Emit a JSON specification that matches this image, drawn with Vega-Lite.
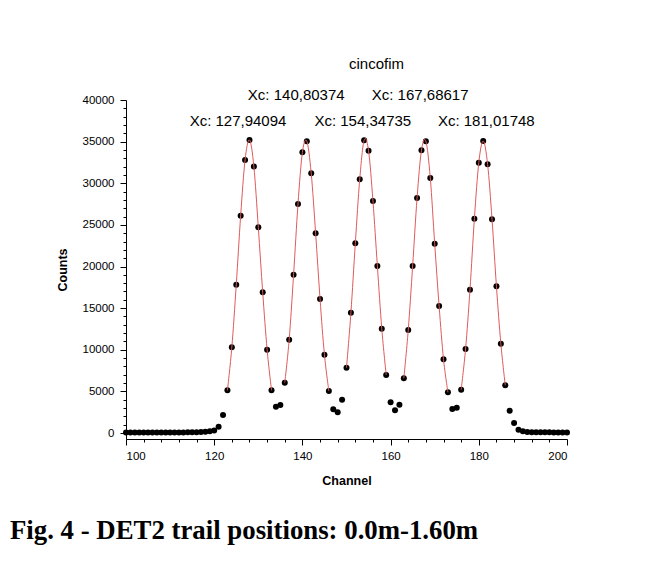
{
  "$schema": "https://vega.github.io/schema/vega-lite/v6.json",
  "width": 441,
  "height": 339,
  "autosize": "none",
  "padding": {"left": 126, "top": 100, "right": 88, "bottom": 135},
  "background": "white",
  "title": {
    "text": "Fig. 4 - DET2 trail positions: 0.0m-1.60m",
    "orient": "bottom",
    "anchor": "start",
    "frame": "group",
    "dx": -116,
    "offset": 31,
    "baseline": "top",
    "font": "Liberation Serif",
    "fontSize": 26.8,
    "fontWeight": "bold",
    "color": "black"
  },
  "config": {
    "view": {"stroke": null},
    "axis": {
      "grid": false,
      "domainColor": "black",
      "tickColor": "black",
      "labelColor": "black",
      "titleColor": "black",
      "labelFont": "Liberation Sans",
      "titleFont": "Liberation Sans",
      "labelFontSize": 11.5,
      "titleFontSize": 12.5,
      "titleFontWeight": "bold",
      "domainWidth": 1,
      "tickWidth": 1
    }
  },
  "datasets": {
    "pts": [
      {"ch": 100, "counts": 50, "seg": 0}, {"ch": 101, "counts": 50, "seg": 0}, {"ch": 102, "counts": 50, "seg": 0},
      {"ch": 103, "counts": 50, "seg": 0}, {"ch": 104, "counts": 50, "seg": 0}, {"ch": 105, "counts": 50, "seg": 0},
      {"ch": 106, "counts": 50, "seg": 0}, {"ch": 107, "counts": 50, "seg": 0}, {"ch": 108, "counts": 50, "seg": 0},
      {"ch": 109, "counts": 60, "seg": 0}, {"ch": 110, "counts": 60, "seg": 0}, {"ch": 111, "counts": 60, "seg": 0},
      {"ch": 112, "counts": 70, "seg": 0}, {"ch": 113, "counts": 70, "seg": 0}, {"ch": 114, "counts": 80, "seg": 0},
      {"ch": 115, "counts": 90, "seg": 0}, {"ch": 116, "counts": 100, "seg": 0}, {"ch": 117, "counts": 120, "seg": 0},
      {"ch": 118, "counts": 150, "seg": 0}, {"ch": 119, "counts": 200, "seg": 0}, {"ch": 120, "counts": 300, "seg": 0},
      {"ch": 121, "counts": 760, "seg": 0}, {"ch": 122, "counts": 2150, "seg": 0},
      {"ch": 123, "counts": 5130, "seg": 1}, {"ch": 124, "counts": 10300, "seg": 1}, {"ch": 125, "counts": 17800, "seg": 1},
      {"ch": 126, "counts": 26100, "seg": 1}, {"ch": 127, "counts": 32800, "seg": 1}, {"ch": 128, "counts": 35200, "seg": 1},
      {"ch": 129, "counts": 32000, "seg": 1}, {"ch": 130, "counts": 24700, "seg": 1}, {"ch": 131, "counts": 16900, "seg": 1},
      {"ch": 132, "counts": 10000, "seg": 1}, {"ch": 133, "counts": 5130, "seg": 1},
      {"ch": 134, "counts": 3160, "seg": 0}, {"ch": 135, "counts": 3360, "seg": 0},
      {"ch": 136, "counts": 6040, "seg": 2}, {"ch": 137, "counts": 11200, "seg": 2}, {"ch": 138, "counts": 19000, "seg": 2},
      {"ch": 139, "counts": 27500, "seg": 2}, {"ch": 140, "counts": 33720, "seg": 2}, {"ch": 141, "counts": 35040, "seg": 2},
      {"ch": 142, "counts": 31190, "seg": 2}, {"ch": 143, "counts": 24000, "seg": 2}, {"ch": 144, "counts": 16100, "seg": 2},
      {"ch": 145, "counts": 9400, "seg": 2}, {"ch": 146, "counts": 5040, "seg": 2},
      {"ch": 147, "counts": 2840, "seg": 0}, {"ch": 148, "counts": 2480, "seg": 0}, {"ch": 149, "counts": 4000, "seg": 0},
      {"ch": 150, "counts": 7850, "seg": 3}, {"ch": 151, "counts": 14450, "seg": 3}, {"ch": 152, "counts": 22790, "seg": 3},
      {"ch": 153, "counts": 30470, "seg": 3}, {"ch": 154, "counts": 35160, "seg": 3}, {"ch": 155, "counts": 33910, "seg": 3},
      {"ch": 156, "counts": 27870, "seg": 3}, {"ch": 157, "counts": 20060, "seg": 3}, {"ch": 158, "counts": 12530, "seg": 3},
      {"ch": 159, "counts": 6970, "seg": 3},
      {"ch": 160, "counts": 3690, "seg": 0}, {"ch": 161, "counts": 2730, "seg": 0}, {"ch": 162, "counts": 3400, "seg": 0},
      {"ch": 163, "counts": 6570, "seg": 4}, {"ch": 164, "counts": 12370, "seg": 4}, {"ch": 165, "counts": 20060, "seg": 4},
      {"ch": 166, "counts": 28230, "seg": 4}, {"ch": 167, "counts": 33960, "seg": 4}, {"ch": 168, "counts": 35040, "seg": 4},
      {"ch": 169, "counts": 30630, "seg": 4}, {"ch": 170, "counts": 22740, "seg": 4}, {"ch": 171, "counts": 15250, "seg": 4},
      {"ch": 172, "counts": 8850, "seg": 4}, {"ch": 173, "counts": 4890, "seg": 4},
      {"ch": 174, "counts": 2880, "seg": 0}, {"ch": 175, "counts": 3040, "seg": 0},
      {"ch": 176, "counts": 5200, "seg": 5}, {"ch": 177, "counts": 10090, "seg": 5}, {"ch": 178, "counts": 17210, "seg": 5},
      {"ch": 179, "counts": 25740, "seg": 5}, {"ch": 180, "counts": 32470, "seg": 5}, {"ch": 181, "counts": 35070, "seg": 5},
      {"ch": 182, "counts": 32270, "seg": 5}, {"ch": 183, "counts": 25670, "seg": 5}, {"ch": 184, "counts": 17620, "seg": 5},
      {"ch": 185, "counts": 10730, "seg": 5}, {"ch": 186, "counts": 5730, "seg": 5},
      {"ch": 187, "counts": 2680, "seg": 0}, {"ch": 188, "counts": 1200, "seg": 0}, {"ch": 189, "counts": 400, "seg": 0},
      {"ch": 190, "counts": 200, "seg": 0}, {"ch": 191, "counts": 120, "seg": 0}, {"ch": 192, "counts": 100, "seg": 0},
      {"ch": 193, "counts": 90, "seg": 0}, {"ch": 194, "counts": 80, "seg": 0}, {"ch": 195, "counts": 80, "seg": 0},
      {"ch": 196, "counts": 80, "seg": 0}, {"ch": 197, "counts": 70, "seg": 0}, {"ch": 198, "counts": 70, "seg": 0},
      {"ch": 199, "counts": 70, "seg": 0}, {"ch": 200, "counts": 70, "seg": 0}
    ],
    "labels": [
      {"lx": 125.4, "ly": 37480, "label": "Xc: 127,94094"},
      {"lx": 138.6, "ly": 40600, "label": "Xc: 140,80374"},
      {"lx": 153.7, "ly": 37480, "label": "Xc: 154,34735"},
      {"lx": 166.7, "ly": 40600, "label": "Xc: 167,68617"},
      {"lx": 181.7, "ly": 37480, "label": "Xc: 181,01748"}
    ]
  },
  "layer": [
    {
      "data": {"name": "pts"},
      "mark": {"type": "circle", "size": 36, "color": "black", "opacity": 1},
      "encoding": {
        "x": {
          "field": "ch", "type": "quantitative",
          "scale": {"domain": [100, 200], "nice": false, "zero": false},
          "axis": {
            "orient": "bottom",
            "values": [100, 120, 140, 160, 180, 200],
            "format": "d",
            "tickSize": 6,
            "labelPadding": 5,
            "title": "Channel",
            "titlePadding": 13
          }
        },
        "y": {
          "field": "counts", "type": "quantitative",
          "scale": {"domain": [-720, 40000], "nice": false, "zero": false},
          "axis": {
            "orient": "left",
            "values": [0, 5000, 10000, 15000, 20000, 25000, 30000, 35000, 40000],
            "format": "d",
            "tickSize": 6,
            "labelPadding": 6,
            "title": "Counts",
            "titlePadding": 13
          }
        }
      }
    },
    {
      "data": {"name": "pts"},
      "transform": [{"filter": "datum.seg > 0"}],
      "mark": {"type": "line", "interpolate": "cardinal", "color": "#e05a5a", "strokeWidth": 1},
      "encoding": {
        "x": {
          "field": "ch", "type": "quantitative",
          "scale": {"domain": [100, 200], "nice": false, "zero": false},
          "axis": {
            "orient": "bottom",
            "values": [104, 108, 112, 116, 124, 128, 132, 136, 144, 148, 152, 156, 164, 168, 172, 176, 184, 188, 192, 196],
            "tickSize": 3,
            "labels": false,
            "domain": false,
            "title": null
          }
        },
        "y": {
          "field": "counts", "type": "quantitative",
          "scale": {"domain": [-720, 40000], "nice": false, "zero": false},
          "axis": {
            "orient": "left",
            "values": [1000, 2000, 3000, 4000, 6000, 7000, 8000, 9000, 11000, 12000, 13000, 14000, 16000, 17000, 18000, 19000, 21000, 22000, 23000, 24000, 26000, 27000, 28000, 29000, 31000, 32000, 33000, 34000, 36000, 37000, 38000, 39000],
            "tickSize": 3,
            "labels": false,
            "domain": false,
            "title": null
          }
        },
        "detail": {"field": "seg", "type": "nominal"}
      }
    },
    {
      "data": {"name": "labels"},
      "mark": {"type": "text", "font": "Liberation Sans", "fontSize": 15, "baseline": "middle", "align": "center", "color": "black"},
      "encoding": {
        "x": {
          "field": "lx", "type": "quantitative",
          "scale": {"domain": [100, 200], "nice": false, "zero": false},
          "axis": {
            "orient": "top",
            "domain": false,
            "ticks": false,
            "labels": false,
            "title": "cincofim",
            "titleFontWeight": "normal",
            "titleFontSize": 15,
            "titlePadding": 29,
            "titleX": 250
          }
        },
        "y": {
          "field": "ly", "type": "quantitative",
          "scale": {"domain": [-720, 40000], "nice": false, "zero": false},
          "axis": null
        },
        "text": {"field": "label"}
      }
    }
  ],
  "resolve": {"axis": {"x": "independent", "y": "independent"}}
}
